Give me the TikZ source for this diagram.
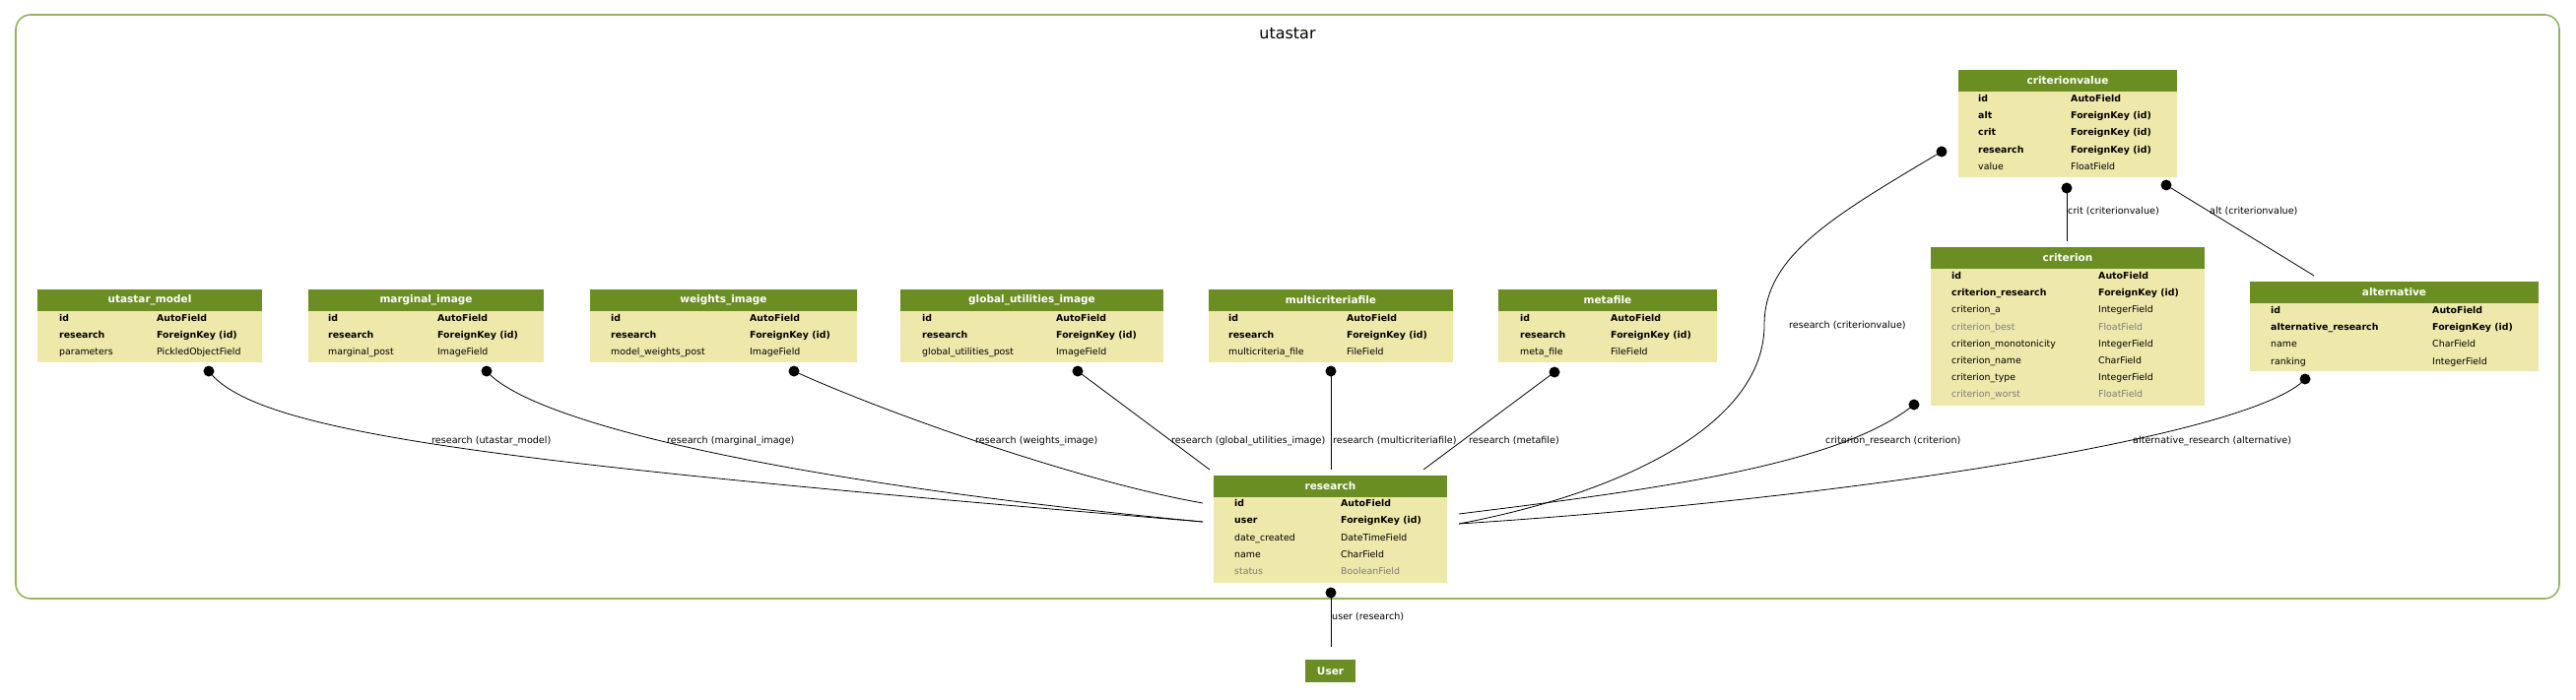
\documentclass[tikz,border=0pt]{standalone}
\usepackage{fontspec}
\setmainfont{DejaVu Sans}
\usetikzlibrary{arrows.meta}
\definecolor{hdrgreen}{RGB}{107,142,35}
\definecolor{bodyyellow}{RGB}{238,232,170}
\definecolor{clusterline}{RGB}{150,178,98}
\definecolor{dimtext}{RGB}{125,125,125}
\tikzset{
  thead/.style={fill=hdrgreen, text=white, inner sep=0pt, minimum height=22pt,
    font=\bfseries\fontsize{10.5}{12}\selectfont},
  tbody/.style={fill=bodyyellow},
  fkey/.style={anchor=base west, inner sep=0pt, font=\bfseries\fontsize{9.4}{11}\selectfont},
  fld/.style={anchor=base west, inner sep=0pt, font=\fontsize{9.4}{11}\selectfont},
  dimfld/.style={fld, text=dimtext},
  elabel/.style={anchor=base west, inner sep=0pt, font=\fontsize{9.6}{11}\selectfont},
  rel/.style={line width=0.8pt},
}
\begin{document}
\begin{tikzpicture}[x=1pt,y=-1pt]
\useasboundingbox (0,0) rectangle (2615,711);
% cluster
\draw[clusterline,line width=1.6pt,rounded corners=15pt] (16,15) rectangle (2598,608);
\node[font=\fontsize{16}{18}\selectfont] (title) at (1307,34) {utastar};

% top row of tables
\fill[tbody] (38,294) rectangle (266,368);
\node[thead,minimum width=228pt] (um) at (152,305) {utastar\_model};
\foreach \fn/\ft/\fs [count=\i from 0] in {id/AutoField/fkey,research/ForeignKey (id)/fkey,parameters/PickledObjectField/fld}
  {\node[\fs] (um-n\i) at (60,326.5+17.2*\i) {\fn}; \node[\fs] (um-t\i) at (159,326.5+17.2*\i) {\ft};}

\fill[tbody] (313,294) rectangle (552,368);
\node[thead,minimum width=239pt] (mi) at (432.5,305) {marginal\_image};
\foreach \fn/\ft/\fs [count=\i from 0] in {id/AutoField/fkey,research/ForeignKey (id)/fkey,marginal\_post/ImageField/fld}
  {\node[\fs] (mi-n\i) at (333,326.5+17.2*\i) {\fn}; \node[\fs] (mi-t\i) at (444,326.5+17.2*\i) {\ft};}

\fill[tbody] (599,294) rectangle (870,368);
\node[thead,minimum width=271pt] (wi) at (734.5,305) {weights\_image};
\foreach \fn/\ft/\fs [count=\i from 0] in {id/AutoField/fkey,research/ForeignKey (id)/fkey,model\_weights\_post/ImageField/fld}
  {\node[\fs] (wi-n\i) at (620,326.5+17.2*\i) {\fn}; \node[\fs] (wi-t\i) at (761,326.5+17.2*\i) {\ft};}

\fill[tbody] (914,294) rectangle (1181,368);
\node[thead,minimum width=267pt] (gui) at (1047.5,305) {global\_utilities\_image};
\foreach \fn/\ft/\fs [count=\i from 0] in {id/AutoField/fkey,research/ForeignKey (id)/fkey,global\_utilities\_post/ImageField/fld}
  {\node[\fs] (gui-n\i) at (936,326.5+17.2*\i) {\fn}; \node[\fs] (gui-t\i) at (1072,326.5+17.2*\i) {\ft};}

\fill[tbody] (1227,294) rectangle (1475,368);
\node[thead,minimum width=248pt] (mcf) at (1351,305) {multicriteriafile};
\foreach \fn/\ft/\fs [count=\i from 0] in {id/AutoField/fkey,research/ForeignKey (id)/fkey,multicriteria\_file/FileField/fld}
  {\node[\fs] (mcf-n\i) at (1247,326.5+17.2*\i) {\fn}; \node[\fs] (mcf-t\i) at (1367,326.5+17.2*\i) {\ft};}

\fill[tbody] (1521,294) rectangle (1743,368);
\node[thead,minimum width=222pt] (mf) at (1632,305) {metafile};
\foreach \fn/\ft/\fs [count=\i from 0] in {id/AutoField/fkey,research/ForeignKey (id)/fkey,meta\_file/FileField/fld}
  {\node[\fs] (mf-n\i) at (1543,326.5+17.2*\i) {\fn}; \node[\fs] (mf-t\i) at (1635,326.5+17.2*\i) {\ft};}

% research
\fill[tbody] (1232,483) rectangle (1469,592);
\node[thead,minimum width=237pt] (rs) at (1350.5,494) {research};
\foreach \fn/\ft/\fs [count=\i from 0] in {id/AutoField/fkey,user/ForeignKey (id)/fkey,date\_created/DateTimeField/fld,name/CharField/fld,status/BooleanField/dimfld}
  {\node[\fs] (rs-n\i) at (1253,514.5+17.3*\i) {\fn}; \node[\fs] (rs-t\i) at (1361,514.5+17.3*\i) {\ft};}

% right part
\fill[tbody] (1988,71) rectangle (2210,180);
\node[thead,minimum width=222pt] (cv) at (2099,82) {criterionvalue};
\foreach \fn/\ft/\fs [count=\i from 0] in {id/AutoField/fkey,alt/ForeignKey (id)/fkey,crit/ForeignKey (id)/fkey,research/ForeignKey (id)/fkey,value/FloatField/fld}
  {\node[\fs] (cv-n\i) at (2008,103.5+17.2*\i) {\fn}; \node[\fs] (cv-t\i) at (2102,103.5+17.2*\i) {\ft};}

\fill[tbody] (1960,251) rectangle (2238,412);
\node[thead,minimum width=278pt] (cr) at (2099,262) {criterion};
\foreach \fn/\ft/\fs [count=\i from 0] in {id/AutoField/fkey,criterion\_research/ForeignKey (id)/fkey,criterion\_a/IntegerField/fld,criterion\_best/FloatField/dimfld,criterion\_monotonicity/IntegerField/fld,criterion\_name/CharField/fld,criterion\_type/IntegerField/fld,criterion\_worst/FloatField/dimfld}
  {\node[\fs] (cr-n\i) at (1981,283.5+17.2*\i) {\fn}; \node[\fs] (cr-t\i) at (2130,283.5+17.2*\i) {\ft};}

\fill[tbody] (2284,286) rectangle (2577,377);
\node[thead,minimum width=293pt] (al) at (2430.5,297) {alternative};
\foreach \fn/\ft/\fs [count=\i from 0] in {id/AutoField/fkey,alternative\_research/ForeignKey (id)/fkey,name/CharField/fld,ranking/IntegerField/fld}
  {\node[\fs] (al-n\i) at (2305,318.5+17.2*\i) {\fn}; \node[\fs] (al-t\i) at (2469,318.5+17.2*\i) {\ft};}

\node[thead,minimum width=51pt,minimum height=23pt] (usr) at (1350.5,681.5) {User};

% connector ends
\coordinate (um-p) at (212,377);
\coordinate (mi-p) at (494,377);
\coordinate (wi-p) at (806,377);
\coordinate (gui-p) at (1094,377);
\coordinate (mcf-p) at (1351,377);
\coordinate (mf-p) at (1578,378);
\coordinate (cv-pl) at (1971,154);
\coordinate (cv-pb) at (2098,191);
\coordinate (cv-pr) at (2199,188);
\coordinate (cr-p) at (1943,411);
\coordinate (al-p) at (2340,385);
\coordinate (rs-p) at (1351,602);
\coordinate (rs-w1) at (1221,511);
\coordinate (rs-w2) at (1221,530);
\coordinate (rs-n1) at (1228,477);
\coordinate (rs-n2) at (1351,477);
\coordinate (rs-n3) at (1445,477);
\coordinate (rs-e1) at (1481,522);
\coordinate (rs-e2) at (1481,532);
\coordinate (cr-in) at (2098,245);
\coordinate (al-in) at (2349,280);
\coordinate (usr-in) at (1351,657);

% relations
\draw[rel] (um-p) .. controls (260,440) and (500,470) .. (rs-w2);
\draw[rel] (mi-p) .. controls (540,430) and (800,490) .. (rs-w2);
\draw[rel] (wi-p) .. controls (900,420) and (1100,490) .. (rs-w1);
\draw[rel] (gui-p) -- (rs-n1);
\draw[rel] (mcf-p) -- (rs-n2);
\draw[rel] (mf-p) -- (rs-n3);
\draw[rel] (cv-pl) .. controls (1860,220) and (1791,260) .. (1791,330) .. controls (1791,430) and (1650,500) .. (rs-e2);
\draw[rel] (cr-p) .. controls (1870,470) and (1700,495) .. (rs-e1);
\draw[rel] (al-p) .. controls (2290,440) and (1900,505) .. (rs-e2);
\draw[rel] (cv-pb) -- (cr-in);
\draw[rel] (cv-pr) -- (al-in);
\draw[rel] (rs-p) -- (usr-in);
\foreach \p in {um-p,mi-p,wi-p,gui-p,mcf-p,mf-p,cv-pl,cv-pb,cv-pr,cr-p,al-p,rs-p}
  \fill (\p) circle[radius=5.5pt];

% relation labels
\node[elabel] (l-um) at (438,450.5) {research (utastar\_model)};
\node[elabel] (l-mi) at (677,450.5) {research (marginal\_image)};
\node[elabel] (l-wi) at (990,450.5) {research (weights\_image)};
\node[elabel] (l-gui) at (1189,450.5) {research (global\_utilities\_image)};
\node[elabel] (l-mcf) at (1353,450.5) {research (multicriteriafile)};
\node[elabel] (l-mf) at (1491,450) {research (metafile)};
\node[elabel] (l-cv) at (1816,333.5) {research (criterionvalue)};
\node[elabel] (l-cr) at (1853,450) {criterion\_research (criterion)};
\node[elabel] (l-al) at (2165,450) {alternative\_research (alternative)};
\node[elabel] (l-crit) at (2099,217.5) {crit (criterionvalue)};
\node[elabel] (l-alt) at (2243,217.5) {alt (criterionvalue)};
\node[elabel] (l-usr) at (1352,629.5) {user (research)};
\end{tikzpicture}
\end{document}
